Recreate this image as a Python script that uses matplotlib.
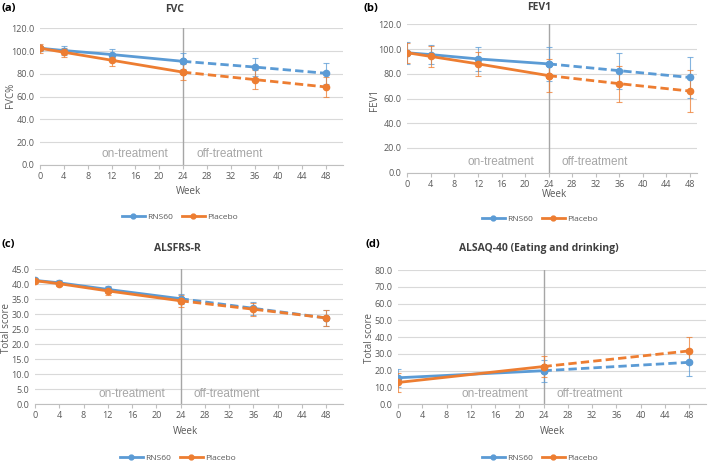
import matplotlib
matplotlib.use('Agg')
import matplotlib.pyplot as plt
from matplotlib.lines import Line2D
import numpy as np

plt.rcParams['font.family'] = ['Open Sans', 'DejaVu Sans']

BLUE = '#5B9BD5'
ORANGE = '#ED7D31'
GRID = '#D9D9D9'
TXT = '#595959'

weeks = [0, 4, 12, 24, 36, 48]
weeks_d = [0, 24, 48]

fvc_rns = [102.5, 100.5, 97.0, 91.0, 86.0, 80.5]
fvc_rns_err = [2.0, 4.0, 5.0, 7.0, 7.5, 9.0]
fvc_pla = [102.5, 99.0, 92.0, 81.5, 75.0, 68.5]
fvc_pla_err = [4.0, 4.0, 5.0, 7.0, 8.0, 9.0]

fev_rns = [97.0, 95.5, 92.0, 88.0, 82.5, 77.0]
fev_rns_err = [9.0, 8.0, 10.0, 13.5, 14.5, 16.5]
fev_pla = [97.0, 94.0, 88.0, 78.5, 72.0, 66.0]
fev_pla_err = [8.0, 8.5, 9.5, 13.5, 14.5, 17.0]

als_rns = [41.3, 40.5, 38.3, 35.2, 32.0, 28.8]
als_rns_err = [0.4, 0.8, 1.2, 1.7, 2.2, 2.6]
als_pla = [41.2, 40.2, 37.8, 34.5, 31.7, 28.8]
als_pla_err = [0.3, 0.8, 1.2, 2.0, 2.2, 2.6]

saq_rns = [15.8, 20.0, 25.0]
saq_rns_err = [5.5, 6.5, 8.0]
saq_pla = [13.0, 22.5, 31.8]
saq_pla_err = [5.5, 6.5, 8.0]

W, H = 709, 463
fig = plt.figure(figsize=(W / 100, H / 100), dpi=100)


def px(x, y):
    return x / W, 1 - y / H


def panel(rect, x, series, ymax, ystep, xmax, ylabel, title, letter,
          title_xy, letter_xy, week_xy, ylab_xy, leg_xy):
    left, top, right, bottom = rect
    ax = fig.add_axes([left / W, 1 - bottom / H, (right - left) / W, (bottom - top) / H])
    x = np.array(x)
    split = list(x).index(24)
    for y, err, col in series:
        y = np.array(y)
        err = np.array(err)
        ax.errorbar(x, y, yerr=err, fmt='none', ecolor=col, elinewidth=0.8,
                    capsize=2, capthick=0.8, alpha=0.75, zorder=3)
        ax.plot(x[:split + 1], y[:split + 1], color=col, lw=2, marker='o', ms=4.5, zorder=4)
        ax.plot(x[split:], y[split:], color=col, lw=2, ls=(0, (3, 1.5)), marker='o', ms=4.5, zorder=4)
    ax.set_xlim(0, xmax)
    ax.set_ylim(0, ymax)
    ax.set_xticks(np.arange(0, 49, 4))
    ax.set_yticks(np.arange(0, ymax + 0.01, ystep))
    ax.set_yticklabels(['%.1f' % v for v in np.arange(0, ymax + 0.01, ystep)])
    ax.grid(axis='y', color=GRID, lw=0.8)
    ax.set_axisbelow(True)
    for s in ['top', 'right', 'left']:
        ax.spines[s].set_visible(False)
    ax.spines['bottom'].set_color('#BFBFBF')
    ax.tick_params(axis='y', length=0, labelsize=6.5, labelcolor=TXT, pad=4)
    ax.tick_params(axis='x', length=3, color='#BFBFBF', labelsize=6.5, labelcolor=TXT, pad=2)
    ax.axvline(24, color='#A6A6A6', lw=1, zorder=2)
    ax.text(21.5, ymax * 0.035, 'on-treatment', ha='right', va='bottom', color='#A6A6A6',
            fontsize=8.5, family='Liberation Sans')
    ax.text(26.2, ymax * 0.035, 'off-treatment', ha='left', va='bottom', color='#A6A6A6',
            fontsize=8.5, family='Liberation Sans')

    fig.text(*px(*title_xy), title, ha='center', va='center', fontsize=7.5,
             fontweight='bold', color='#404040')
    fig.text(*px(*letter_xy), letter, ha='left', va='center', fontsize=8, fontweight='bold', color='black')
    fig.text(*px(*week_xy), 'Week', ha='center', va='center', fontsize=7, color=TXT)
    fig.text(*px(*ylab_xy), ylabel, ha='center', va='center', fontsize=7, color=TXT, rotation=90)
    handles = [Line2D([], [], color=BLUE, lw=2, marker='o', ms=3.5),
               Line2D([], [], color=ORANGE, lw=2, marker='o', ms=3.5)]
    fig.legend(handles, ['RNS60', 'Placebo'], loc='center', bbox_to_anchor=px(*leg_xy), ncol=2,
               frameon=False, fontsize=6, handlelength=2.8, columnspacing=1.0,
               handletextpad=0.3, labelcolor=TXT)
    return ax


panel((40, 28.3, 343, 165), weeks,
      [(fvc_rns, fvc_rns_err, BLUE), (fvc_pla, fvc_pla_err, ORANGE)],
      120, 20, 50.85, 'FVC%', 'FVC', '(a)',
      (175, 10), (2, 8), (188, 191), (10, 95), (180, 217))

panel((407.3, 24.3, 697, 172.7), weeks,
      [(fev_rns, fev_rns_err, BLUE), (fev_pla, fev_pla_err, ORANGE)],
      120, 20, 49.2, 'FEV1', 'FEV1', '(b)',
      (539, 7), (364, 8), (554, 195), (375, 100), (540, 219))

panel((35, 269.3, 343, 404.3), weeks,
      [(als_rns, als_rns_err, BLUE), (als_pla, als_pla_err, ORANGE)],
      45, 5, 50.8, 'Total score', 'ALSFRS-R', '(c)',
      (177, 249), (2, 244), (185, 431), (7, 328), (178, 458))

panel((398, 270, 706, 404.3), weeks_d,
      [(saq_rns, saq_rns_err, BLUE), (saq_pla, saq_pla_err, ORANGE)],
      80, 10, 50.8, 'Total score', 'ALSAQ-40 (Eating and drinking)', '(d)',
      (539, 249), (366, 244), (552, 431), (369, 338), (540, 458))

fig.savefig('out.png', dpi=100)
